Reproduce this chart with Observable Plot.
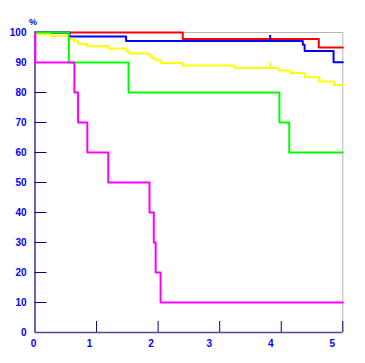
<!DOCTYPE html>
<html>
<head>
<meta charset="utf-8">
<script src="https://cdn.jsdelivr.net/npm/d3@7"></script>
<script src="https://cdn.jsdelivr.net/npm/@observablehq/plot@0.6"></script>
<style>
  html, body { margin: 0; padding: 0; background: white; }
</style>
</head>
<body>
<div id="chart"></div>
<script>
const xTicks = [0, 1, 2, 3, 4, 5];
const yTicks = [0, 10, 20, 30, 40, 50, 60, 70, 80, 90, 100];

const redT = [0, 2.40, 4.61, 5];
const redS = [100, 97.8, 95, 95];

const blueT = [0, 0.56, 1.48, 4.35, 4.38, 4.85, 5];
const blueS = [100, 98.7, 97.2, 95.9, 93.8, 90.1, 90.1];
const blueCensorT = [3.82];
const blueCensorS = [97.2];

const yellowT = [0, 0.25, 0.54, 0.63, 0.70, 0.85, 1.19, 1.49, 1.53, 1.86, 1.90, 1.96, 2.04, 2.39, 3.24, 3.96, 4.14, 4.38, 4.62, 4.86, 5];
const yellowS = [99.5, 98.8, 97.9, 97.1, 96.2, 95.4, 94.7, 93.8, 93.0, 92.2, 91.4, 90.7, 89.8, 89.0, 88.2, 87.3, 86.5, 85.1, 83.7, 82.5, 82.5];
const yellowCensorT = [3.82];
const yellowCensorS = [88.2];

const greenT = [0, 0.55, 1.52, 3.97, 4.13, 5];
const greenS = [100, 90, 80, 70, 60, 60];

const magentaT = [0, 0.005, 0.64, 0.70, 0.85, 1.19, 1.86, 1.93, 1.96, 2.04, 5];
const magentaS = [100, 90, 80, 70, 60, 50, 40, 30, 20, 10, 10];

const toRows = (T, S) => T.map((t, i) => ({t, s: S[i]}));

const navy = "#000080";
const lineOpts = (color) => ({x: "t", y: "s", curve: "step-after", stroke: color, strokeWidth: 2});
const censorOpts = (color) => ({x: "t", y1: "s", y2: d => d.s + 1.8, stroke: color, strokeWidth: 2});

const chart = Plot.plot({
  width: 365,
  height: 363,
  marginLeft: 34.5,
  marginRight: 22.7,
  marginTop: 32,
  marginBottom: 31,
  x: {domain: [0, 5]},
  y: {domain: [0, 100]},
  style: {
    fontFamily: "'Liberation Sans', Arial, sans-serif",
    fontSize: "10px",
    fontWeight: "bold",
    background: "white",
    overflow: "visible"
  },
  marks: [
    Plot.ruleY([100], {stroke: "#b4b4b4", strokeWidth: 1}),
    Plot.ruleX([5], {stroke: "#b4b4b4", strokeWidth: 1}),
    Plot.tickY(yTicks.filter(d => d > 0 && d < 100), {y: d => d, stroke: navy, strokeWidth: 1, insetRight: 295.8}),
    Plot.tickX(xTicks.filter(d => d > 0), {x: d => d, stroke: navy, strokeWidth: 1, insetTop: 289}),
    Plot.ruleX([0], {stroke: navy, strokeWidth: 1.2}),
    Plot.ruleY([0], {stroke: "#4a4a9a", strokeWidth: 1.5}),
    Plot.axisY(yTicks, {tickSize: 0, tickPadding: 8.5, fill: "#0000ff", fontWeight: "bold", label: null}),
    Plot.axisX([0], {tickSize: 0, tickPadding: 7, dx: -1.5, fill: "#0000ff", fontWeight: "bold", label: null}),
    Plot.axisX([1, 2], {tickSize: 0, tickPadding: 7, dx: -7, fill: "#0000ff", fontWeight: "bold", label: null}),
    Plot.axisX([3, 4, 5], {tickSize: 0, tickPadding: 7, dx: -10.5, fill: "#0000ff", fontWeight: "bold", label: null}),
    Plot.text(["%"], {frameAnchor: "top-left", dx: -6, dy: -14, text: d => d, fill: "#0000ff", fontSize: 9, fontWeight: "bold"}),
    Plot.line(toRows(redT, redS), lineOpts("#ff0000")),
    Plot.line(toRows(blueT, blueS), lineOpts("#0000ff")),
    Plot.ruleX(toRows(blueCensorT, blueCensorS), censorOpts("#0000ff")),
    Plot.line(toRows(yellowT, yellowS), lineOpts("#ffff00")),
    Plot.ruleX(toRows(yellowCensorT, yellowCensorS), censorOpts("#ffff00")),
    Plot.line(toRows(greenT, greenS), lineOpts("#00ff00")),
    Plot.line(toRows(magentaT, magentaS), lineOpts("#ff00ff"))
  ]
});
document.getElementById("chart").appendChild(chart);
</script>
</body>
</html>
